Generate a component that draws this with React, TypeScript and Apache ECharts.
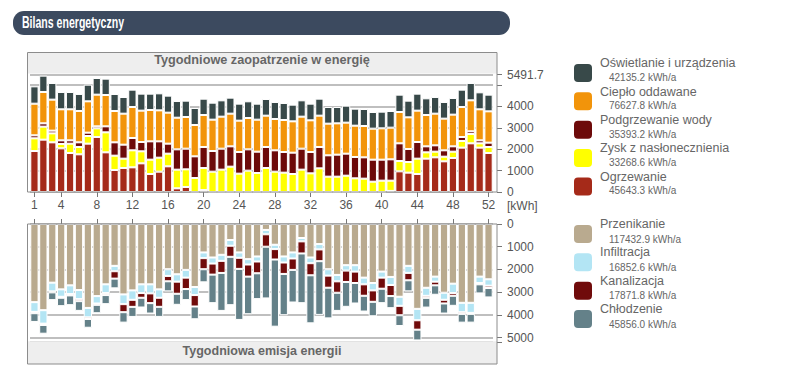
import React, { useEffect, useRef } from 'react';
import * as echarts from 'echarts';

// ---------- data ----------
const weeks = ['1','2','3','4','5','6','7','8','9','10','11','12','13','14','15','16','17','18','19','20','21','22','23','24','25','26','27','28','29','30','31','32','33','34','35','36','37','38','39','40','41','42','43','44','45','46','47','48','49','50','51','52'];

// Weekly energy supply [kWh]
const ogrzewanie = [1916,2446,2321,2041,1823,1761,2259,2571,1854,1028,1122,1153,1340,841,950,1200,171,234,0,90,0,0,0,0,0,0,0,0,0,0,0,0,0,0,0,0,0,0,0,0,50,966,904,841,1558,1620,1433,1589,2072,2275,2072,1823];
const zysk = [592,608,421,203,436,343,358,405,935,670,436,795,561,670,654,592,872,825,654,1030,950,1044,1184,857,997,888,1122,950,904,841,1044,872,1106,717,717,763,639,623,483,530,480,483,498,717,296,265,218,296,312,436,203,280];
const podgrzewanie = [140,156,125,171,156,218,156,93,280,623,654,576,436,857,763,467,950,966,1013,982,966,981,950,1013,997,997,981,998,966,997,981,998,997,997,1028,1029,997,997,1028,981,997,826,608,779,280,296,297,249,187,125,140,203];
const cieplo = [1480,1465,1449,1449,1449,1465,1465,1480,1465,1465,1449,1449,1465,1465,1449,1449,1480,1481,1465,1496,1465,1496,1527,1464,1465,1496,1465,1464,1495,1465,1496,1480,1465,1480,1464,1449,1464,1464,1449,1465,1480,1464,1480,1465,1465,1480,1480,1481,1402,1449,1449,1464];
const oswietlanie = [810,763,779,810,810,795,779,779,763,795,779,810,795,763,795,795,779,763,794,763,794,763,748,795,779,748,779,795,795,779,764,779,794,779,764,794,795,795,779,779,779,810,779,794,779,780,779,779,810,810,794,779];

// Weekly energy emission [kWh]
const przenikanie = [3437,3791,2580,2875,2698,2905,3691,3171,2653,1841,3097,2920,2653,2653,2875,1989,2211,2019,2772,1251,1473,1355,705,1251,1546,1428,261,912,1428,1251,616,1473,882,1989,2241,1812,1812,2359,2595,2093,2329,3200,1841,3732,2805,2314,3023,2624,3466,3466,2314,2432];
const infiltracja = [428,591,384,325,384,399,414,325,384,236,428,414,384,399,369,295,325,340,354,251,266,266,251,236,236,222,192,192,266,266,148,251,236,281,281,236,281,295,325,266,354,399,310,502,354,222,310,414,414,443,281,281];
const kanalizacja = [59,59,44,44,59,89,74,59,89,325,354,310,207,428,399,236,532,502,502,487,487,532,487,487,532,517,546,458,502,502,532,532,517,532,502,502,502,502,502,487,487,414,325,414,89,162,162,118,74,44,59,103];
const chlodzenie = [384,384,340,369,428,428,384,369,399,428,458,443,428,458,443,443,487,487,561,576,1255,1669,2127,2245,1654,1137,2275,2954,1816,1433,2186,2112,2363,1349,798,1093,901,694,635,635,532,473,487,473,428,414,443,443,384,384,399,414];

const supplyNames = ['Oświetlanie i urządzenia', 'Ciepło oddawane', 'Podgrzewanie wody', 'Zysk z nasłonecznienia', 'Ogrzewanie'];
const supplyTotals = ['42135.2', '76627.8', '35393.2', '33268.6', '45643.3'];
const emissionNames = ['Przenikanie', 'Infiltracja', 'Kanalizacja', 'Chłodzenie'];
const emissionTotals = ['117432.9', '16852.6', '17871.8', '45856.0'];

const supplyMax = 5491.7;
const emissionMax = 5190;

const chartTitle = 'Bilans energetyczny';
const supplyTitle = 'Tygodniowe zaopatrzenie w energię';
const emissionTitle = 'Tygodniowa emisja energii';
const unitLabel = '[kWh]';

// ---------- styles ----------
const supplyColors = ['#384949', '#f2940a', '#6d0a0a', '#ffff00', '#a52a19'];
const emissionColors = ['#b9aa8f', '#b3e5f4', '#700b0b', '#648189'];
const FONT = "'Liberation Sans', Arial, sans-serif";

export default function App() {
  const ref = useRef<HTMLDivElement>(null);

  useEffect(() => {
    if (!ref.current) return;
    const chart = echarts.init(ref.current, undefined, { renderer: 'svg' });

    const isLabelWeek = (i: number) => i === 0 || (i + 1) % 4 === 0;

    const supplyData = [oswietlanie, cieplo, podgrzewanie, zysk, ogrzewanie];
    const emissionData = [przenikanie, infiltracja, kanalizacja, chlodzenie];

    const barBase = {
      type: 'bar',
      barCategoryGap: '7%',
      silent: true,
      emphasis: { disabled: true },
    };

    const series: any[] = [];
    // stack from bottom: Ogrzewanie, Zysk, Podgrzewanie, Ciepło, Oświetlanie
    for (let k = supplyNames.length - 1; k >= 0; k--) {
      series.push({
        ...barBase,
        name: supplyNames[k],
        stack: 'supply',
        xAxisIndex: 0,
        yAxisIndex: 0,
        data: supplyData[k],
        itemStyle: { color: supplyColors[k], borderColor: '#ffffff', borderWidth: 1 },
      });
    }
    for (let k = 0; k < emissionNames.length; k++) {
      series.push({
        ...barBase,
        name: emissionNames[k],
        stack: 'emission',
        xAxisIndex: 1,
        yAxisIndex: 1,
        data: emissionData[k],
        itemStyle: { color: emissionColors[k], borderColor: '#ffffff', borderWidth: 1 },
      });
    }

    const legendEls: any[] = [];
    const addLegend = (names: string[], totals: string[], colors: string[], top: number, nameDy: number, valDy: number) => {
      names.forEach((n, i) => {
        const y = top + i * 28.35;
        legendEls.push({
          type: 'rect',
          shape: { x: 574, y, width: 18, height: 18, r: 4 },
          style: { fill: colors[i] },
        });
        legendEls.push({
          type: 'text',
          x: 600,
          y: y + nameDy,
          style: { text: n, fill: '#666', fontSize: 12.5, fontFamily: FONT, verticalAlign: 'middle', align: 'left' },
        });
        legendEls.push({
          type: 'text',
          x: 609,
          y: y + valDy,
          style: { text: totals[i] + ' kWh/a', fill: '#666', fontSize: 10, fontFamily: FONT, verticalAlign: 'middle', align: 'left' },
        });
      });
    };
    addLegend(supplyNames, supplyTotals, supplyColors, 64, -0.7, 13.3);
    addLegend(emissionNames, emissionTotals, emissionColors, 225, -1, 14);

    const option: any = {
      animation: false,
      textStyle: { fontFamily: FONT },
      grid: [
        { left: 30, top: 74.5, width: 463, height: 117.5 },
        { left: 30, top: 224, width: 463, height: 118 },
      ],
      xAxis: [
        {
          type: 'category',
          gridIndex: 0,
          data: weeks,
          position: 'bottom',
          axisLine: { show: false },
          axisTick: { show: true, alignWithLabel: true, interval: (i: number) => isLabelWeek(i), length: 5, lineStyle: { color: '#777' } },
          axisLabel: { interval: (i: number) => isLabelWeek(i), color: '#555', fontSize: 12, margin: 7 },
        },
        {
          type: 'category',
          gridIndex: 1,
          data: weeks,
          position: 'top',
          axisLine: { show: false },
          axisTick: { show: true, alignWithLabel: true, interval: (i: number) => isLabelWeek(i), length: 5, lineStyle: { color: '#777' } },
          axisLabel: { show: false },
        },
      ],
      yAxis: [
        {
          type: 'value',
          gridIndex: 0,
          position: 'right',
          offset: 4,
          min: 0,
          max: supplyMax,
          interval: 1000,
          axisLine: { show: false },
          axisTick: { show: true, length: 5, lineStyle: { color: '#777' } },
          axisLabel: {
            color: '#555', fontSize: 12, margin: 10,
            formatter: (v: number) => (v === 5000 ? '' : String(v)),
          },
          splitLine: { show: true, lineStyle: { color: '#aaa', width: 1.5 } },
        },
        {
          type: 'value',
          gridIndex: 1,
          position: 'right',
          offset: 4,
          inverse: true,
          min: 0,
          max: emissionMax,
          interval: 1000,
          axisLine: { show: false },
          axisTick: { show: true, length: 5, lineStyle: { color: '#777' } },
          axisLabel: {
            color: '#555', fontSize: 12, margin: 10,
            formatter: (v: number) => (v % 1000 === 0 ? String(v) : ''),
          },
          splitLine: { show: true, lineStyle: { color: '#aaa', width: 1.5 } },
        },
      ],
      series,
      graphic: [
        // title bar
        { type: 'rect', shape: { x: 13, y: 11, width: 497, height: 24, r: 11 }, style: { fill: '#3c4a5f' } },
        {
          type: 'text', x: 22, y: 23, scaleX: 0.66,
          style: { text: chartTitle, fill: '#fff', fontSize: 16, fontWeight: 'bold', fontFamily: FONT, verticalAlign: 'middle', align: 'left' },
        },
        // supply frame
        { type: 'rect', z: 10, shape: { x: 27.5, y: 53, width: 469.5, height: 20.5 }, style: { fill: '#eeeeee' } },
        { type: 'rect', z: 11, shape: { x: 27.5, y: 52.5, width: 469.5, height: 139.5 }, style: { fill: 'none', stroke: '#8c8c8c', lineWidth: 1 } },
        {
          type: 'text', z: 12, x: 262, y: 60.3,
          style: { text: supplyTitle, fill: '#666', fontSize: 12.7, fontWeight: 'bold', fontFamily: FONT, align: 'center', verticalAlign: 'middle' },
        },
        // emission frame
        { type: 'rect', z: 10, shape: { x: 27.5, y: 341.3, width: 469.5, height: 22.7 }, style: { fill: '#eeeeee' } },
        { type: 'rect', z: 11, shape: { x: 27.5, y: 224, width: 469.5, height: 140 }, style: { fill: 'none', stroke: '#8c8c8c', lineWidth: 1 } },
        {
          type: 'text', z: 12, x: 262, y: 350.5,
          style: { text: emissionTitle, fill: '#666', fontSize: 12.5, fontWeight: 'bold', fontFamily: FONT, align: 'center', verticalAlign: 'middle' },
        },
        // unit label
        {
          type: 'text', x: 507, y: 205.5,
          style: { text: unitLabel, fill: '#555', fontSize: 12, fontFamily: FONT, align: 'left', verticalAlign: 'middle' },
        },
        ...legendEls,
      ],
    };

    chart.setOption(option);
    return () => chart.dispose();
  }, []);

  return (
    <div
      ref={ref}
      style={{ position: 'fixed', left: 0, top: 0, width: 812, height: 382, background: '#fff' }}
    />
  );
}
